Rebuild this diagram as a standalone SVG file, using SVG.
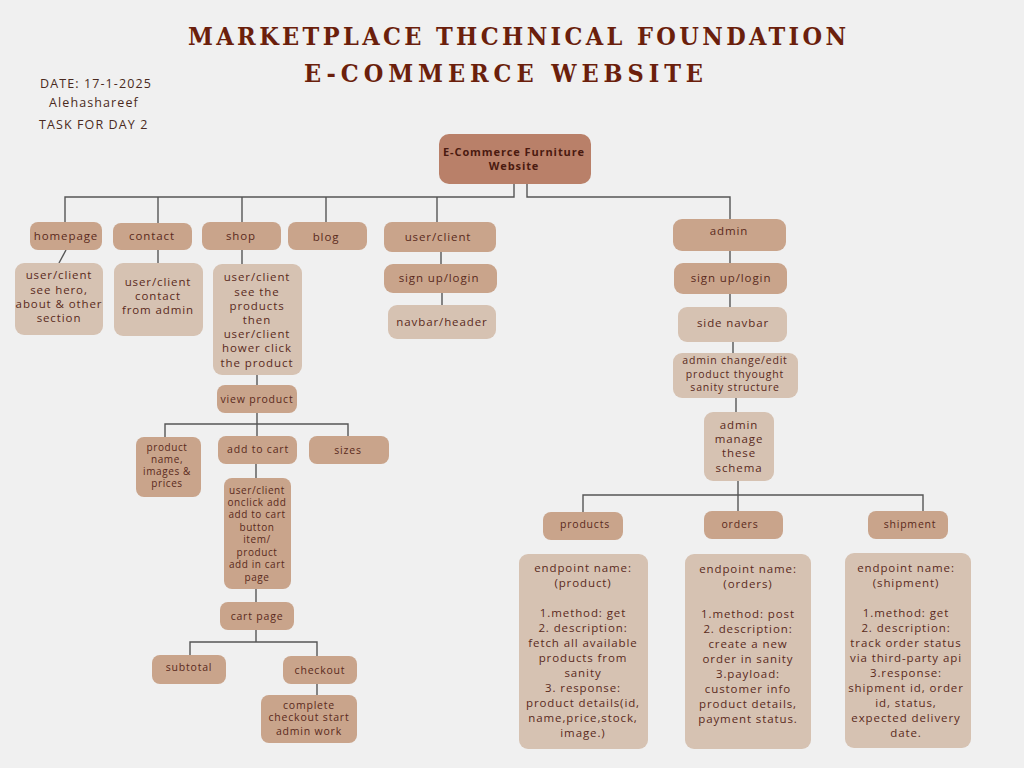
<svg xmlns="http://www.w3.org/2000/svg" width="1024" height="768" viewBox="0 0 1024 768">
  <style>
    .bg { fill: #f0f0f0; }
    .title { font-family: "DejaVu Serif Condensed", "DejaVu Serif", serif; font-weight: bold; font-size: 25px; fill: #6b1f0c; }
    .meta { font-family: "Open Sans", "Liberation Sans", sans-serif; font-size: 12.5px; fill: #4a2a20; letter-spacing: 1.1px; }
    .root { fill: #b98069; }
    .dark { fill: #c9a48b; }
    .light { fill: #d6c2b2; }
    .t { font-family: "Open Sans", "Liberation Sans", sans-serif; font-size: 11.5px; fill: #5a2a1c; letter-spacing: 0.9px; text-anchor: middle; }
    .s { font-size: 10px; letter-spacing: 0.6px; }
    .m { font-size: 10.5px; letter-spacing: 0.8px; }
    .rt { font-family: "Open Sans", "Liberation Sans", sans-serif; font-size: 11px; font-weight: bold; fill: #4a1a10; letter-spacing: 0.9px; text-anchor: middle; }
    .c { fill: none; stroke: #555555; stroke-width: 1.4; }
  </style>

  <rect class="bg" x="0" y="0" width="1024" height="768"/>

  <!-- heading -->
  <g id="heading">
    <text class="title" x="188" y="45" textLength="658" lengthAdjust="spacing">MARKETPLACE THCHNICAL FOUNDATION</text>
    <text class="title" x="304" y="82" textLength="399" lengthAdjust="spacing">E-COMMERCE WEBSITE</text>
  </g>

  <g id="meta">
    <text class="meta" x="40" y="88">DATE: 17-1-2025</text>
    <text class="meta" x="49" y="107">Alehashareef</text>
    <text class="meta" x="39" y="129">TASK FOR DAY 2</text>
  </g>

  <!-- connectors -->
  <g id="connectors" class="c">
    <path d="M514 184 V197 H65 V222"/>
    <path d="M158 197 V223"/>
    <path d="M242 197 V222"/>
    <path d="M326 197 V222"/>
    <path d="M437 197 V222"/>
    <path d="M527 184 V197 H730 V219"/>
    <path d="M66 250 L59 263"/>
    <path d="M158 250 V263"/>
    <path d="M242 250 V264"/>
    <path d="M441 252 V264"/>
    <path d="M442 293 V305"/>
    <path d="M257 375 V385"/>
    <path d="M257 413 V436"/>
    <path d="M165 437 V424 H348 V436"/>
    <path d="M256 464 V478"/>
    <path d="M256 589 V602"/>
    <path d="M256 630 V642"/>
    <path d="M190 655 V642 H317 V656"/>
    <path d="M317 684 V695"/>
    <path d="M730 251 V263"/>
    <path d="M730 294 V307"/>
    <path d="M733 342 V353"/>
    <path d="M736 398 V412"/>
    <path d="M738 481 V511"/>
    <path d="M583 512 V495 H923 V511"/>
  </g>

  <!-- root -->
  <g id="root">
    <rect class="root" x="439" y="134" width="152" height="50" rx="10"/>
    <text class="rt" x="514" y="156">E-Commerce  Furniture</text>
    <text class="rt" x="514" y="170">Website</text>
  </g>

  <!-- first level -->
  <g id="homepage">
    <rect class="dark" x="30" y="222" width="72" height="28" rx="8"/>
    <text class="t" x="66" y="240">homepage</text>
  </g>
  <g id="contact">
    <rect class="dark" x="113" y="223" width="79" height="27" rx="8"/>
    <text class="t" x="152" y="240">contact</text>
  </g>
  <g id="shop">
    <rect class="dark" x="202" y="222" width="79" height="28" rx="8"/>
    <text class="t" x="241" y="240">shop</text>
  </g>
  <g id="blog">
    <rect class="dark" x="288" y="222" width="79" height="28" rx="8"/>
    <text class="t" x="326" y="241">blog</text>
  </g>
  <g id="user-client">
    <rect class="dark" x="384" y="222" width="112" height="30" rx="8"/>
    <text class="t" x="438" y="241">user/client</text>
  </g>
  <g id="admin">
    <rect class="dark" x="673" y="219" width="113" height="32" rx="9"/>
    <text class="t" x="729" y="235">admin</text>
  </g>

  <!-- homepage / contact / shop details -->
  <g id="homepage-info">
    <rect class="light" x="15" y="263" width="88" height="72" rx="9"/>
    <text class="t" x="59" y="279">user/client</text>
    <text class="t" x="59" y="294">see hero,</text>
    <text class="t" x="59" y="308">about &amp; other</text>
    <text class="t" x="59" y="322">section</text>
  </g>
  <g id="contact-info">
    <rect class="light" x="114" y="263" width="89" height="73" rx="9"/>
    <text class="t" x="158" y="286">user/client</text>
    <text class="t" x="158" y="300">contact</text>
    <text class="t" x="158" y="314">from admin</text>
  </g>
  <g id="shop-info">
    <rect class="light" x="213" y="264" width="89" height="111" rx="9"/>
    <text class="t" x="257" y="281">user/client</text>
    <text class="t" x="257" y="296">see the</text>
    <text class="t" x="257" y="310">products</text>
    <text class="t" x="257" y="324">then</text>
    <text class="t" x="257" y="338">user/client</text>
    <text class="t" x="257" y="352">hower click</text>
    <text class="t" x="257" y="367">the product</text>
  </g>

  <!-- user/client branch -->
  <g id="user-signup">
    <rect class="dark" x="384" y="264" width="113" height="29" rx="9"/>
    <text class="t" x="439" y="282">sign up/login</text>
  </g>
  <g id="navbar-header">
    <rect class="light" x="388" y="305" width="108" height="34" rx="9"/>
    <text class="t" x="442" y="326">navbar/header</text>
  </g>

  <!-- shop flow -->
  <g id="view-product">
    <rect class="dark" x="217" y="385" width="80" height="28" rx="8"/>
    <text class="t m" x="257" y="403">view product</text>
  </g>
  <g id="product-details">
    <rect class="dark" x="136" y="437" width="65" height="60" rx="8"/>
    <text class="t s" x="167" y="451">product</text>
    <text class="t s" x="167" y="463">name,</text>
    <text class="t s" x="167" y="475">images &amp;</text>
    <text class="t s" x="167" y="487">prices</text>
  </g>
  <g id="add-to-cart">
    <rect class="dark" x="218" y="436" width="79" height="28" rx="8"/>
    <text class="t m" x="258" y="453">add to cart</text>
  </g>
  <g id="sizes">
    <rect class="dark" x="309" y="436" width="80" height="28" rx="8"/>
    <text class="t m" x="348" y="454">sizes</text>
  </g>
  <g id="add-to-cart-info">
    <rect class="dark" x="224" y="478" width="67" height="111" rx="8"/>
    <text class="t s" x="257" y="494">user/client</text>
    <text class="t s" x="257" y="506">onclick add</text>
    <text class="t s" x="257" y="518">add to cart</text>
    <text class="t s" x="257" y="531">button</text>
    <text class="t s" x="257" y="543">item/</text>
    <text class="t s" x="257" y="556">product</text>
    <text class="t s" x="257" y="568">add in cart</text>
    <text class="t s" x="257" y="581">page</text>
  </g>
  <g id="cart-page">
    <rect class="dark" x="220" y="602" width="74" height="28" rx="8"/>
    <text class="t m" x="257" y="620">cart page</text>
  </g>
  <g id="subtotal">
    <rect class="dark" x="152" y="655" width="74" height="29" rx="8"/>
    <text class="t m" x="189" y="671">subtotal</text>
  </g>
  <g id="checkout">
    <rect class="dark" x="283" y="656" width="74" height="28" rx="8"/>
    <text class="t m" x="320" y="674">checkout</text>
  </g>
  <g id="checkout-info">
    <rect class="dark" x="261" y="695" width="96" height="48" rx="8"/>
    <text class="t m" x="309" y="709">complete</text>
    <text class="t m" x="309" y="721">checkout start</text>
    <text class="t m" x="309" y="735">admin work</text>
  </g>

  <!-- admin branch -->
  <g id="admin-signup">
    <rect class="dark" x="674" y="263" width="113" height="31" rx="9"/>
    <text class="t" x="731" y="282">sign up/login</text>
  </g>
  <g id="side-navbar">
    <rect class="light" x="678" y="307" width="109" height="35" rx="9"/>
    <text class="t" x="733" y="327">side navbar</text>
  </g>
  <g id="admin-edit">
    <rect class="light" x="673" y="353" width="125" height="45" rx="9"/>
    <text class="t m" x="735" y="364">admin change/edit</text>
    <text class="t m" x="735" y="378">product thyought</text>
    <text class="t m" x="735" y="391">sanity structure</text>
  </g>
  <g id="admin-manage">
    <rect class="light" x="704" y="412" width="70" height="69" rx="9"/>
    <text class="t" x="739" y="429">admin</text>
    <text class="t" x="739" y="443">manage</text>
    <text class="t" x="739" y="457">these</text>
    <text class="t" x="739" y="472">schema</text>
  </g>

  <!-- schemas -->
  <g id="products">
    <rect class="dark" x="543" y="512" width="80" height="28" rx="8"/>
    <text class="t m" x="585" y="528">products</text>
  </g>
  <g id="orders">
    <rect class="dark" x="704" y="511" width="79" height="28" rx="8"/>
    <text class="t m" x="740" y="528">orders</text>
  </g>
  <g id="shipment">
    <rect class="dark" x="868" y="511" width="80" height="28" rx="8"/>
    <text class="t m" x="910" y="528">shipment</text>
  </g>

  <!-- endpoints -->
  <g id="products-endpoint">
    <rect class="light" x="519" y="554" width="129" height="195" rx="9"/>
    <text class="t" x="583" y="572">endpoint name:</text>
    <text class="t" x="583" y="587">(product)</text>
    <text class="t" x="583" y="617">1.method: get</text>
    <text class="t" x="583" y="632">2. description:</text>
    <text class="t" x="583" y="647">fetch all available</text>
    <text class="t" x="583" y="662">products from</text>
    <text class="t" x="583" y="677">sanity</text>
    <text class="t" x="583" y="692">3. response:</text>
    <text class="t" x="583" y="707">product details(id,</text>
    <text class="t" x="583" y="722">name,price,stock,</text>
    <text class="t" x="583" y="737">image.)</text>
  </g>
  <g id="orders-endpoint">
    <rect class="light" x="685" y="554" width="126" height="195" rx="9"/>
    <text class="t" x="748" y="573">endpoint name:</text>
    <text class="t" x="748" y="588">(orders)</text>
    <text class="t" x="748" y="618">1.method: post</text>
    <text class="t" x="748" y="633">2. description:</text>
    <text class="t" x="748" y="648">create a new</text>
    <text class="t" x="748" y="663">order in sanity</text>
    <text class="t" x="748" y="678">3.payload:</text>
    <text class="t" x="748" y="693">customer info</text>
    <text class="t" x="748" y="708">product details,</text>
    <text class="t" x="748" y="723">payment status.</text>
  </g>
  <g id="shipment-endpoint">
    <rect class="light" x="845" y="553" width="126" height="195" rx="9"/>
    <text class="t" x="906" y="572">endpoint name:</text>
    <text class="t" x="906" y="587">(shipment)</text>
    <text class="t" x="906" y="617">1.method: get</text>
    <text class="t" x="906" y="632">2. description:</text>
    <text class="t" x="906" y="647">track order status</text>
    <text class="t" x="906" y="662">via third-party api</text>
    <text class="t" x="906" y="677">3.response:</text>
    <text class="t" x="906" y="692">shipment id, order</text>
    <text class="t" x="906" y="707">id, status,</text>
    <text class="t" x="906" y="722">expected delivery</text>
    <text class="t" x="906" y="737">date.</text>
  </g>
</svg>
